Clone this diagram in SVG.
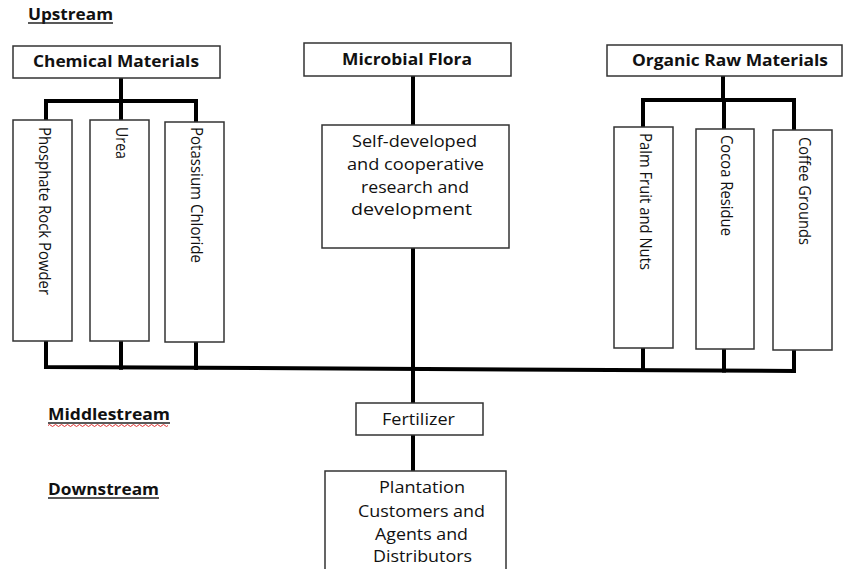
<svg xmlns="http://www.w3.org/2000/svg" width="846" height="569" viewBox="0 0 846 569">
<style>
.box{fill:#fff;stroke:#333;stroke-width:1.5}
.con{fill:none;stroke:#000;stroke-width:4;stroke-linecap:square}
.h{font-family:"Open Sans","Liberation Sans",sans-serif;font-weight:bold;font-size:16px;fill:#111}
.t{font-family:"Open Sans","Liberation Sans",sans-serif;font-size:16.5px;fill:#111}
.r{font-family:"Open Sans","Liberation Sans",sans-serif;font-size:16.5px;fill:#111}
.c{text-anchor:middle}
.ul{stroke:#222;stroke-width:1.3}
</style>
<rect width="846" height="569" fill="#fff"/>
<g id="connectors">
<path class="con" d="M121 78V101M46 101H196M46 101V120M121 101V120M196 101V122"/>
<path class="con" d="M723 76V100M643 100H794M643 100V127M724 100V129M794 100V130"/>
<path class="con" d="M413 76V125"/>
<path class="con" d="M46 341V367M121 341V368M196 342V368M643 348V370M724 349V371M794 350V371M46 367L794 371"/>
<path class="con" d="M413 248V403M413 435V471"/>
</g>
<g id="label-upstream"><text class="h" x="28" y="20" textLength="85" lengthAdjust="spacingAndGlyphs">Upstream</text><line class="ul" x1="28" y1="23" x2="113" y2="23"/></g>
<g id="label-middlestream"><text class="h" x="48" y="420" textLength="122" lengthAdjust="spacingAndGlyphs">Middlestream</text><line class="ul" x1="48" y1="423" x2="170" y2="423"/><path d="M48 425.5q1.5-2 3 0t3 0t3 0t3 0t3 0t3 0t3 0t3 0t3 0t3 0t3 0t3 0t3 0t3 0t3 0t3 0t3 0t3 0t3 0t3 0t3 0t3 0t3 0t3 0t3 0t3 0t3 0t3 0t3 0t3 0t3 0t3 0t3 0t3 0t3 0t3 0t3 0t3 0t3 0t3 0" fill="none" stroke="#e03030" stroke-width="1"/></g>
<g id="label-downstream"><text class="h" x="48" y="495" textLength="111" lengthAdjust="spacingAndGlyphs">Downstream</text><line class="ul" x1="48" y1="498" x2="159" y2="498"/></g>
<g id="chemical-materials"><rect class="box" x="13" y="46" width="207" height="32"/><text class="h c" x="116" y="67" textLength="166" lengthAdjust="spacingAndGlyphs">Chemical Materials</text></g>
<g id="microbial-flora"><rect class="box" x="304" y="43" width="207" height="33"/><text class="h c" x="407" y="65" textLength="130" lengthAdjust="spacingAndGlyphs">Microbial Flora</text></g>
<g id="organic-raw-materials"><rect class="box" x="607" y="45" width="235" height="31"/><text class="h c" x="730" y="66" textLength="196" lengthAdjust="spacingAndGlyphs">Organic Raw Materials</text></g>
<g id="phosphate"><rect class="box" x="13" y="120" width="59" height="221"/><text class="r" transform="translate(42.5 127) rotate(90)" y="4" textLength="168" lengthAdjust="spacingAndGlyphs">Phosphate Rock Powder</text></g>
<g id="urea"><rect class="box" x="90" y="120" width="59" height="221"/><text class="r" transform="translate(119.5 127) rotate(90)" y="4" textLength="32" lengthAdjust="spacingAndGlyphs">Urea</text></g>
<g id="potassium"><rect class="box" x="165" y="122" width="59" height="220"/><text class="r" transform="translate(194.5 127) rotate(90)" y="4" textLength="136" lengthAdjust="spacingAndGlyphs">Potassium Chloride</text></g>
<g id="palm"><rect class="box" x="614" y="127" width="59" height="221"/><text class="r" transform="translate(643.5 133) rotate(90)" y="4" textLength="137" lengthAdjust="spacingAndGlyphs">Palm Fruit and Nuts</text></g>
<g id="cocoa"><rect class="box" x="696" y="129" width="58" height="220"/><text class="r" transform="translate(725 135) rotate(90)" y="4" textLength="101" lengthAdjust="spacingAndGlyphs">Cocoa Residue</text></g>
<g id="coffee"><rect class="box" x="773" y="130" width="59" height="220"/><text class="r" transform="translate(802.5 137) rotate(90)" y="4" textLength="108" lengthAdjust="spacingAndGlyphs">Coffee Grounds</text></g>
<g id="research"><rect class="box" x="322" y="125" width="187" height="123"/><text class="t c" x="414.5" y="147" textLength="125" lengthAdjust="spacingAndGlyphs">Self-developed</text><text class="t c" x="415.5" y="170" textLength="137" lengthAdjust="spacingAndGlyphs">and cooperative</text><text class="t c" x="415" y="193" textLength="108" lengthAdjust="spacingAndGlyphs">research and</text><text class="t c" x="411.5" y="215" textLength="121" lengthAdjust="spacingAndGlyphs">development</text></g>
<g id="fertilizer"><rect class="box" x="356" y="403" width="127" height="32"/><text class="t c" x="418.5" y="425" textLength="73" lengthAdjust="spacingAndGlyphs">Fertilizer</text></g>
<g id="plantation"><rect class="box" x="325" y="471" width="181" height="110"/><text class="t c" x="422" y="493" textLength="86" lengthAdjust="spacingAndGlyphs">Plantation</text><text class="t c" x="421.5" y="517" textLength="127" lengthAdjust="spacingAndGlyphs">Customers and</text><text class="t c" x="421.5" y="540" textLength="93" lengthAdjust="spacingAndGlyphs">Agents and</text><text class="t c" x="422.5" y="562" textLength="99" lengthAdjust="spacingAndGlyphs">Distributors</text></g>
</svg>
